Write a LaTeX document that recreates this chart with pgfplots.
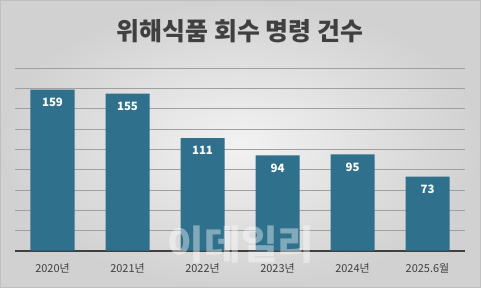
\documentclass[border=0pt]{standalone}
\usepackage{pgfplots}
\pgfplotsset{compat=1.18}
\usepackage{fontspec}
\setmainfont{Noto Sans CJK KR}
\definecolor{barcol}{RGB}{47,112,140}
\definecolor{txt}{RGB}{64,64,64}
\definecolor{gridc}{RGB}{160,160,160}
\begin{document}
\begin{tikzpicture}
\shade[inner color=white!95!black, outer color=white!82!black] (0,0) rectangle (481bp,288bp);
\draw[white!75!black, line width=0.8bp] (0.4bp,0.4bp) rectangle (480.6bp,287.6bp);
\path[use as bounding box] (0,0) rectangle (481bp,288bp);
\node[font=\bfseries\fontsize{25}{29}\selectfont, text=txt, anchor=center] at (240bp,256.5bp) {위해식품 회수 명령 건수};
\begin{axis}[
  at={(15bp,37.3bp)}, anchor=south west,
  scale only axis, width=450bp, height=182.4bp,
  xmin=-0.5, xmax=5.5, ymin=0, ymax=180,
  ytick={0,20,...,180}, yticklabels={},
  xtick=data,
  xticklabels={2020년,2021년,2022년,2023년,2024년,2025.6월},
  xticklabel style={font=\fontsize{11}{13}\selectfont, text=txt, inner sep=0pt, yshift=-13bp},
  major tick length=0pt,
  ymajorgrids, grid style={gridc, line width=0.8bp},
  axis lines*=left,
  y axis line style={draw=none},
  x axis line style={draw=txt, line width=1.8bp},
  ybar, bar width=44bp,
  /pgf/number format/assume math mode=true,
  nodes near coords,
  every node near coord/.append style={anchor=north, yshift=-8bp, inner sep=0pt, text=white, font=\bfseries\fontsize{11.5}{13}\selectfont},
]
\addplot[fill=barcol, draw=none] coordinates {(0,159) (1,155) (2,111) (3,94) (4,95) (5,73)};
\end{axis}
\node[font=\bfseries\fontsize{40}{44}\selectfont, text=white, opacity=0.4] at (241bp,43bp) {이데일리};
\end{tikzpicture}
\end{document}
